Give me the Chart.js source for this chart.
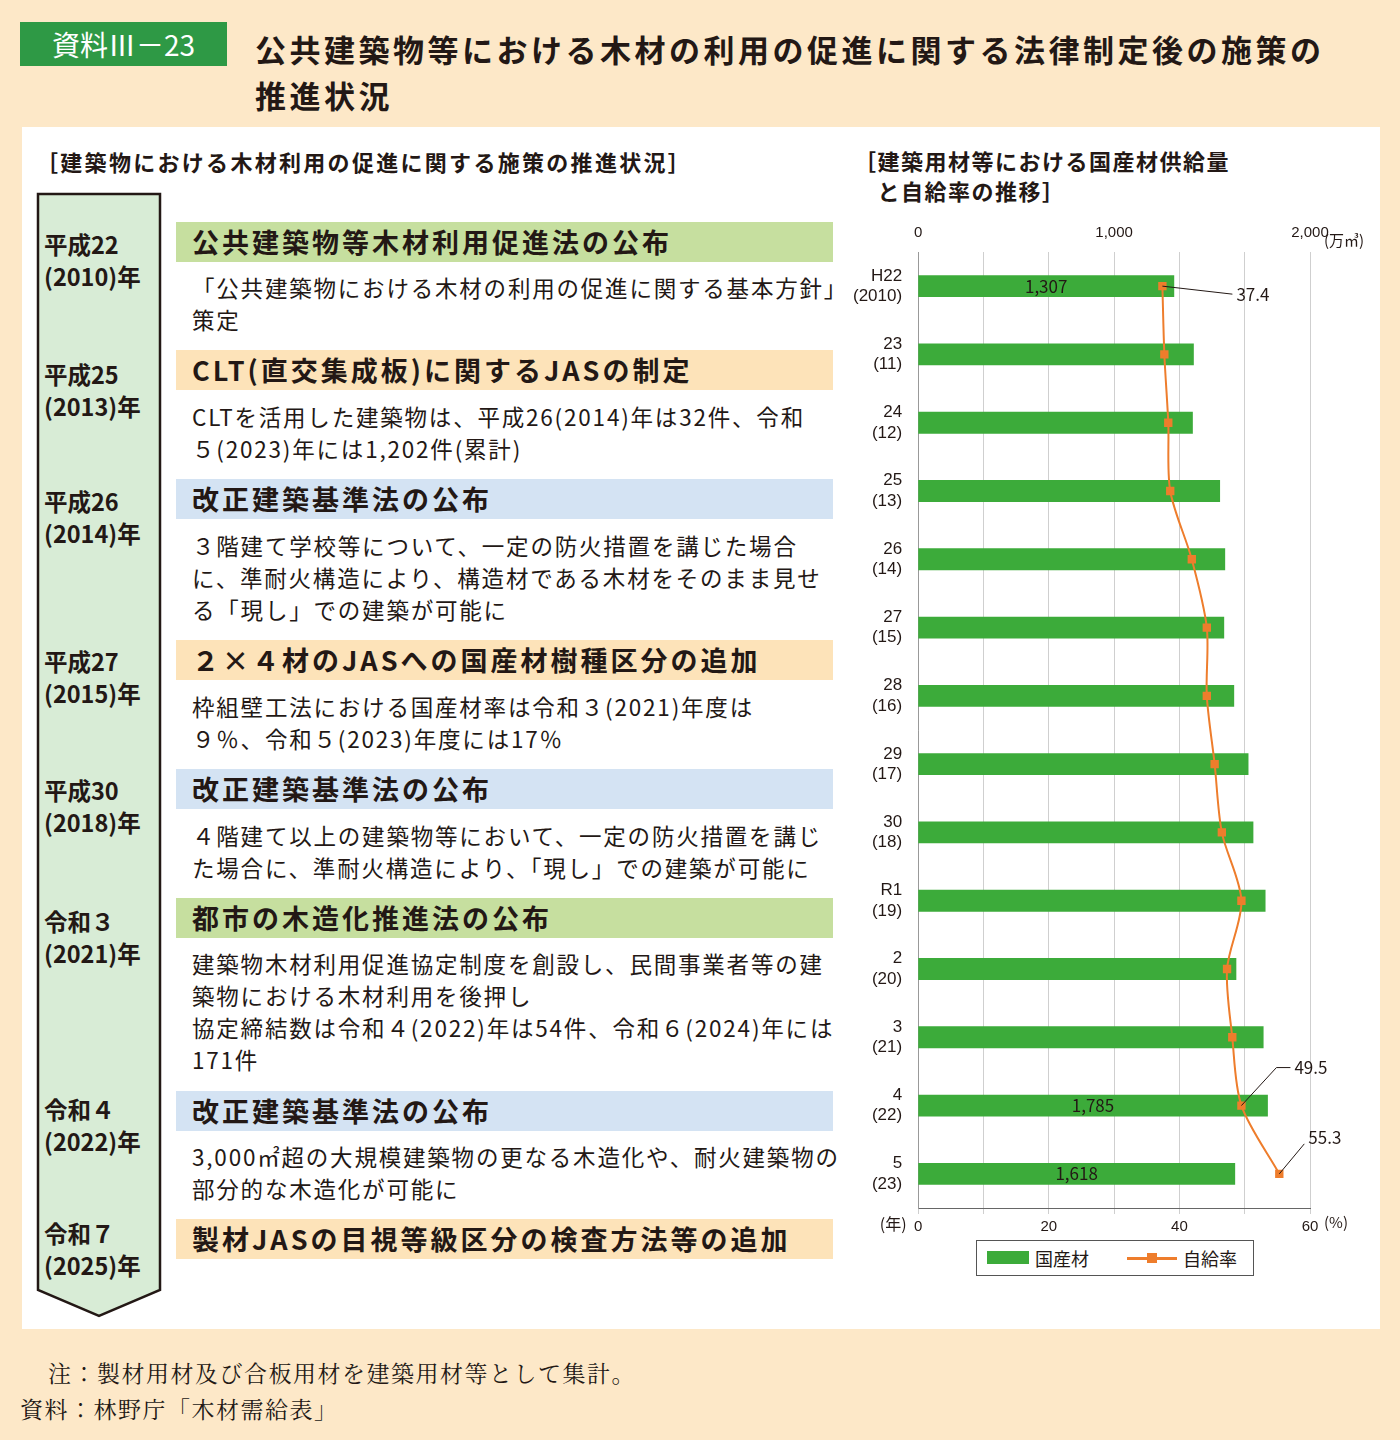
<!DOCTYPE html>
<html lang="ja">
<head>
<meta charset="UTF-8">
<script src="https://cdn.jsdelivr.net/npm/chart.js"></script>
<style>
  body { margin:0; width:1400px; height:1440px; background:#fde8c8; font-family:"Noto Sans CJK JP","Noto Sans",sans-serif; color:#231815; position:relative; overflow:hidden; }
  .abs { position:absolute; }
  .band { position:absolute; left:176px; width:657px; height:40px; font-size:27px; font-weight:bold; line-height:40px; padding-left:16px; box-sizing:border-box; letter-spacing:3px; }
  .g { background:#c6df9f; } .o { background:#fde3b9; } .b { background:#d4e3f3; }
  .txt { position:absolute; left:192px; width:650px; font-size:22.5px; line-height:32px; letter-spacing:1.8px; }
  .yr { position:absolute; left:44px; font-size:23.5px; font-weight:bold; line-height:32px; }
</style>
</head>
<body>
<div class="abs" style="left:20px;top:22px;width:207px;height:44px;background:#2e9945;color:#fff;font-size:28px;line-height:44px;text-align:center">資料Ⅲ－23</div>
<div class="abs" style="left:255px;top:26px;font-size:31px;letter-spacing:3.5px;font-weight:bold;line-height:46px;width:1130px">公共建築物等における木材の利用の促進に関する法律制定後の施策の<br>推進状況</div>
<div class="abs" style="left:22px;top:127px;width:1358px;height:1202px;background:#fff"></div>
<div class="abs" style="left:36px;top:145px;font-size:22px;font-weight:bold;letter-spacing:2.3px">［建築物における木材利用の促進に関する施策の推進状況］</div>
<div class="abs" style="left:854px;top:145px;font-size:22px;font-weight:bold;line-height:30px;letter-spacing:1.5px">［建築用材等における国産材供給量<br>　と自給率の推移］</div>

<svg class="abs" style="left:0;top:0" width="200" height="1340">
  <polygon points="38,194 160,194 160,1290 99,1316 38,1290" fill="#d8ecd6" stroke="#231815" stroke-width="2.5"/>
</svg>
<div class="yr" style="top:228px">平成22<br>(2010)年</div>
<div class="yr" style="top:358px">平成25<br>(2013)年</div>
<div class="yr" style="top:485px">平成26<br>(2014)年</div>
<div class="yr" style="top:645px">平成27<br>(2015)年</div>
<div class="yr" style="top:774px">平成30<br>(2018)年</div>
<div class="yr" style="top:905px">令和３<br>(2021)年</div>
<div class="yr" style="top:1093px">令和４<br>(2022)年</div>
<div class="yr" style="top:1217px">令和７<br>(2025)年</div>

<div class="band g" style="top:222px">公共建築物等木材利用促進法の公布</div>
<div class="txt" style="top:271px">「公共建築物における木材の利用の促進に関する基本方針」策定</div>
<div class="band o" style="top:350px">CLT(直交集成板)に関するJASの制定</div>
<div class="txt" style="top:400px">CLTを活用した建築物は、平成26(2014)年は32件、令和<br>５(2023)年には1,202件(累計)</div>
<div class="band b" style="top:479px">改正建築基準法の公布</div>
<div class="txt" style="top:529px">３階建て学校等について、一定の防火措置を講じた場合に、準耐火構造により、構造材である木材をそのまま見せる「現し」での建築が可能に</div>
<div class="band o" style="top:640px">２×４材のJASへの国産材樹種区分の追加</div>
<div class="txt" style="top:690px">枠組壁工法における国産材率は令和３(2021)年度は<br>９％、令和５(2023)年度には17％</div>
<div class="band b" style="top:769px">改正建築基準法の公布</div>
<div class="txt" style="top:819px">４階建て以上の建築物等において、一定の防火措置を講じた場合に、準耐火構造により、「現し」での建築が可能に</div>
<div class="band g" style="top:898px">都市の木造化推進法の公布</div>
<div class="txt" style="top:947px">建築物木材利用促進協定制度を創設し、民間事業者等の建築物における木材利用を後押し<br>協定締結数は令和４(2022)年は54件、令和６(2024)年には171件</div>
<div class="band b" style="top:1091px">改正建築基準法の公布</div>
<div class="txt" style="top:1140px">3,000㎡超の大規模建築物の更なる木造化や、耐火建築物の部分的な木造化が可能に</div>
<div class="band o" style="top:1219px">製材JASの目視等級区分の検査方法等の追加</div>

<div class="abs" style="left:48px;top:1356px;font-size:23px;letter-spacing:1.5px;font-family:'Noto Serif CJK JP','Noto Sans CJK JP',serif">注：製材用材及び合板用材を建築用材等として集計。</div>
<div class="abs" style="left:20px;top:1392px;font-size:23px;letter-spacing:1.5px;font-family:'Noto Serif CJK JP','Noto Sans CJK JP',serif">資料：林野庁「木材需給表」</div>

<div class="abs" style="left:845px;top:222px;width:535px;height:1018px"><canvas id="c"></canvas></div>
<div class="abs" style="left:976px;top:1240px;width:276px;height:34px;border:1px solid #555;background:#fff;font-size:18px;line-height:34px">
  <span class="abs" style="left:10px;top:10px;width:42px;height:13px;background:#3cab3a"></span>
  <span class="abs" style="left:58px">国産材</span>
  <span class="abs" style="left:150px;top:16px;width:50px;height:3px;background:#ee7d2c"></span>
  <span class="abs" style="left:170px;top:12px;width:10px;height:10px;background:#ee7d2c"></span>
  <span class="abs" style="left:206px">自給率</span>
</div>

<script>
const years = [['H22','(2010)'],['23','(11)'],['24','(12)'],['25','(13)'],['26','(14)'],['27','(15)'],['28','(16)'],['29','(17)'],['30','(18)'],['R1','(19)'],['2','(20)'],['3','(21)'],['4','(22)'],['5','(23)']];
const supply = [1307, 1407, 1402, 1541, 1567, 1562, 1613, 1686, 1711, 1773, 1624, 1763, 1785, 1618];
const selfRate = [37.4, 37.7, 38.3, 38.6, 41.9, 44.2, 44.2, 45.4, 46.5, 49.5, 47.3, 48.1, 49.5, 55.3];
const supplyLabelIdx = [0, 12, 13];
const rateLabelIdx = [0, 12, 13];

const labelPlugin = {
  id: 'labels',
  afterDatasetsDraw(chart) {
    const ctx = chart.ctx;
    const x = chart.scales.x, x2 = chart.scales.x2, y = chart.scales.y;
    const ca = chart.chartArea;
    ctx.save();
    ctx.font = '17px "Noto Sans CJK JP"';
    ctx.fillStyle = '#231815';
    ctx.textBaseline = 'middle';
    ctx.textAlign = 'center';
    supplyLabelIdx.forEach(i => {
      ctx.fillText(supply[i].toLocaleString('en-US'), (x.getPixelForValue(0) + x.getPixelForValue(supply[i])) / 2, y.getPixelForValue(i));
    });
    const offs = {0: [70, 8], 12: [35, -38], 13: [25, -30]};
    ctx.textAlign = 'left';
    ctx.strokeStyle = '#231815'; ctx.lineWidth = 1;
    rateLabelIdx.forEach(i => {
      const px = x2.getPixelForValue(selfRate[i]), py = y.getPixelForValue(i);
      const [dx, dy] = offs[i];
      ctx.beginPath(); ctx.moveTo(px, py); ctx.lineTo(px + dx, py + dy);
      if (i === 12) ctx.lineTo(px + dx + 14, py + dy);
      ctx.stroke();
      ctx.fillText(selfRate[i].toFixed(1), px + dx + (i === 12 ? 18 : 4), py + dy + (i === 13 ? -6 : 0));
    });
    ctx.font = '15px "Noto Sans CJK JP"';
    ctx.textAlign = 'left';
    ctx.fillText('(万㎥)', ca.right + 14, ca.top - 12);
    ctx.fillText('(%)', ca.right + 14, ca.bottom + 14);
    ctx.textAlign = 'center';
    ctx.font = '16px "Noto Sans CJK JP"';
    ctx.fillText('(年)', ca.left - 25, ca.bottom + 16);
    ctx.restore();
  }
};

new Chart(document.getElementById('c'), {
  data: {
    labels: years,
    datasets: [
      { type: 'line', label: '自給率', data: selfRate, xAxisID: 'x2', yAxisID: 'y', indexAxis: 'y',
        borderColor: '#ee7d2c', backgroundColor: '#ee7d2c', borderWidth: 2, pointStyle: 'rect', pointRadius: 4.5, tension: 0.3 },
      { type: 'bar', label: '国産材', data: supply, xAxisID: 'x', yAxisID: 'y', backgroundColor: '#3cab3a', barPercentage: 0.32, categoryPercentage: 1 }
    ]
  },
  options: {
    indexAxis: 'y',
    responsive: true, maintainAspectRatio: false, animation: false,
    layout: { padding: { left: 0, right: 70, top: 0, bottom: 0 } },
    plugins: { legend: { display: false }, tooltip: { enabled: false } },
    scales: {
      x: { position: 'top', min: 0, max: 2000, ticks: { stepSize: 1000, color: '#231815', font: { size: 15 }, padding: 2,
             callback: v => v.toLocaleString('en-US') },
           grid: { display: false }, border: { display: false } },
      x2: { position: 'bottom', min: 0, max: 60, ticks: { stepSize: 10, color: '#231815', font: { size: 15 }, padding: 4,
             callback: v => v % 20 === 0 ? v : '' },
            grid: { color: '#cfcfcf', tickLength: 6 }, border: { color: '#666' } },
      y: { ticks: { color: '#231815', font: { size: 17 }, padding: 8 }, grid: { display: false }, border: { color: '#999' } }
    }
  },
  plugins: [labelPlugin]
});
</script>
</body>
</html>
